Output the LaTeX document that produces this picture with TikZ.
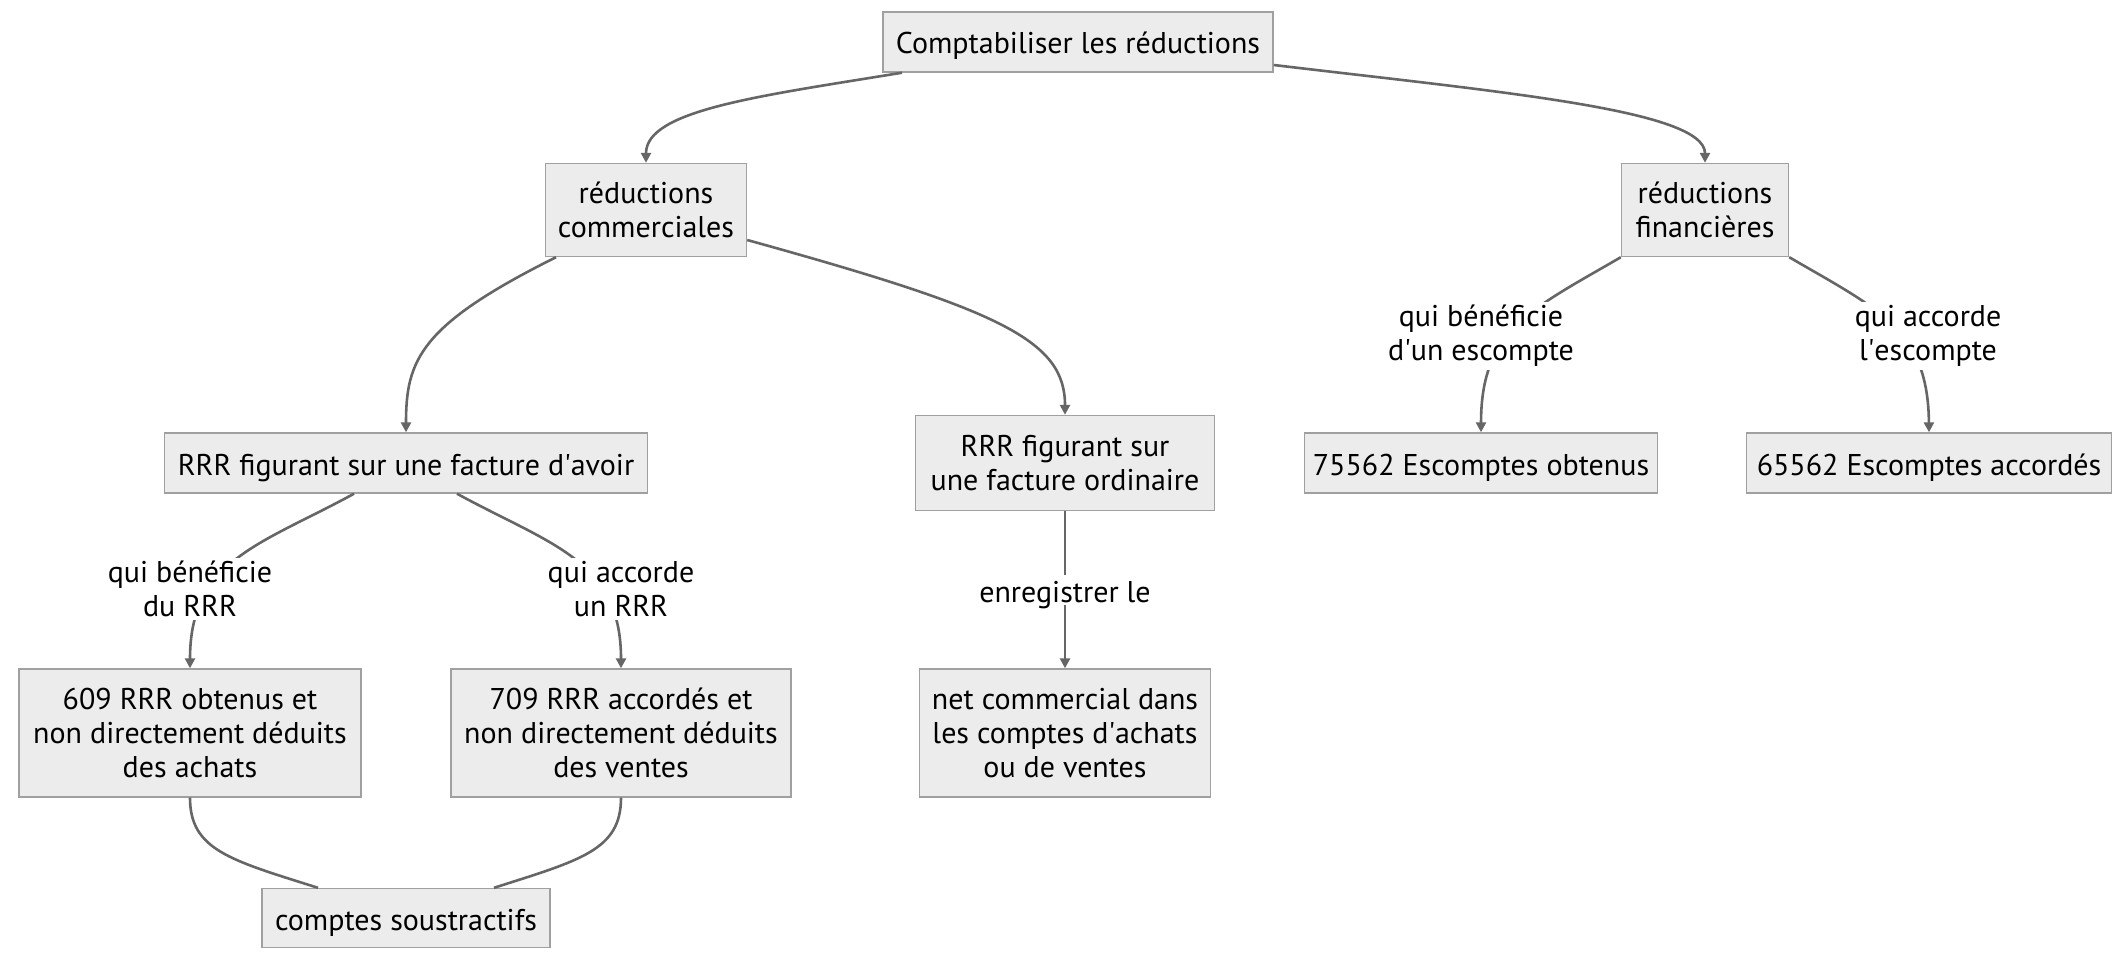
\documentclass[tikz,border=0pt]{standalone}
\usepackage{fontspec}
\setmainfont{PT Sans}
\usepackage{tikz}
\usetikzlibrary{arrows.meta, positioning}
\definecolor{boxfill}{RGB}{236,236,236}
\definecolor{boxline}{RGB}{160,160,160}
\definecolor{linkgray}{RGB}{102,102,102}
\tikzset{
  box/.style={rectangle, draw=boxline, fill=boxfill, align=center,
    inner sep=0pt, line width=0.7pt, font=\fontsize{15}{17}\selectfont},
  oneline/.style={text height=12pt, text depth=0pt},
  edgelbl/.style={fill=white, align=center, inner sep=1.5pt,
    font=\fontsize{15}{17}\selectfont},
  arrow/.style={-{Triangle[length=5pt,width=5pt]}, line width=1.3pt, color=linkgray},
  line/.style={line width=1.3pt, color=linkgray}
}

\begin{document}
\begin{tikzpicture}[x=0.5pt, y=-0.5pt]
  \useasboundingbox (0,0) rectangle (2128,958);

  % Boxes
  \node[box, oneline, minimum width=195pt, minimum height=30pt] (compta) at (1078,42) {Comptabiliser les réductions};
  \node[box, minimum width=100.5pt, minimum height=46.5pt] (comm) at (646,210) {réductions\\commerciales};
  \node[box, minimum width=83.5pt, minimum height=46.5pt] (fin) at (1705,210) {réductions\\financières};
  \node[box, oneline, minimum width=241.5pt, minimum height=30pt] (avoir) at (406,463) {RRR figurant sur une facture d\textquotesingle avoir};
  \node[box, minimum width=149.5pt, minimum height=47.5pt] (ordin) at (1065,463) {RRR figurant sur\\une facture ordinaire};
  \node[box, oneline, minimum width=176.5pt, minimum height=30pt] (obt) at (1481,463) {75562 Escomptes obtenus};
  \node[box, oneline, minimum width=182.5pt, minimum height=30pt] (acc) at (1929,463) {65562 Escomptes accordés};
  \node[box, minimum width=171pt, minimum height=64pt] (rrrobt) at (190,733) {609 RRR obtenus et\\non directement déduits\\des achats};
  \node[box, minimum width=170pt, minimum height=64pt] (rrracc) at (621,733) {709 RRR accordés et\\non directement déduits\\des ventes};
  \node[box, minimum width=145.5pt, minimum height=64pt] (net) at (1065,733) {net commercial dans\\les comptes d\textquotesingle achats\\ou de ventes};
  \node[box, oneline, minimum width=144pt, minimum height=29.5pt] (soustr) at (406,918) {comptes soustractifs};

  % Links from the top
  \draw[arrow] ([xshift=-88pt]compta.south) .. controls (760,96) and (646,110) .. (comm.north);
  \draw[arrow] ([yshift=-11.5pt]compta.east) .. controls (1500,92) and (1705,110) .. (fin.north);

  % Commercial side
  \draw[arrow] ([xshift=-45pt]comm.south) .. controls (420,325) and (406,360) .. (avoir.north);
  \draw[arrow] ([yshift=-15pt]comm.east) .. controls (1000,310) and (1065,340) .. (ordin.north);
  \draw[arrow] ([xshift=-26pt]avoir.south) .. controls (260,545) and (190,560) .. (rrrobt.north);
  \draw[arrow] ([xshift=25.5pt]avoir.south) .. controls (551,545) and (621,560) .. (rrracc.north);
  \draw[arrow] (ordin.south) -- (net.north);

  % Financial side
  \draw[arrow] (fin.south west) .. controls (1530,310) and (1481,330) .. (obt.north);
  \draw[arrow] (fin.south east) .. controls (1880,310) and (1928,330) .. (acc.north);

  % Subtractive accounts
  \draw[line] (rrrobt.south) .. controls (190,850) and (230,860) .. ([xshift=-44pt]soustr.north);
  \draw[line] (rrracc.south) .. controls (621,850) and (581,860) .. ([xshift=44pt]soustr.north);

  % Edge labels
  \node[edgelbl] (lblobt) at (190,589) {qui bénéficie\\du RRR};
  \node[edgelbl] (lblacc) at (621,589) {qui accorde\\un RRR};
  \node[edgelbl, oneline] (lblnet) at (1065,590) {enregistrer le};
  \node[edgelbl] (lblesc) at (1481,336) {qui bénéficie\\d\textquotesingle un escompte};
  \node[edgelbl] (lblacce) at (1928,336) {qui accorde\\l\textquotesingle escompte};
\end{tikzpicture}
\end{document}
